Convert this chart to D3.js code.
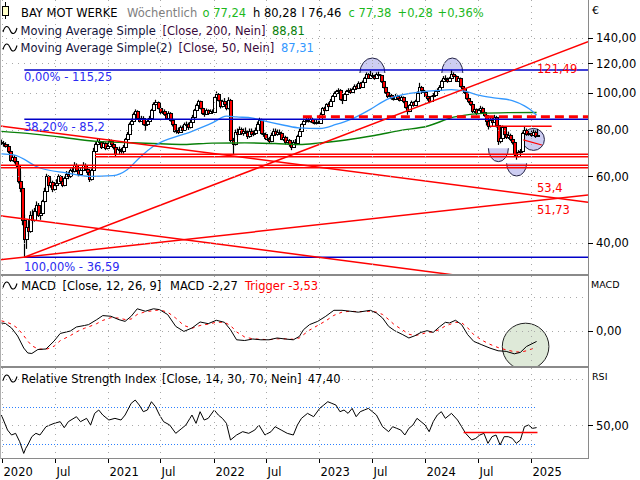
<!DOCTYPE html>
<html><head><meta charset="utf-8">
<script src="https://cdn.jsdelivr.net/npm/d3@7"></script>
<style>
html,body{margin:0;padding:0;background:#fff;}
svg{display:block;font-family:"DejaVu Sans",sans-serif;}
</style></head><body>
<svg id="chart" width="640" height="480"></svg>
<script>
// ---------------- DATA ----------------
const firstWeek = "2019-12-30"; // Monday of first weekly candle
const weekOpen = [
74.0,73.5,73.0,72.5,70.0,66.5,67.5,66.0,64.5,58.5,56.0,46.0,41.0,44.0,43.0,47.5,46.0,48.5,50.5,47.5,48.0,51.5,55.0,60.0,57.0,58.0,55.5,57.0,57.5,60.0,58.5,57.0,59.5,61.0,60.0,62.5,62.0,64.5,62.5,61.0,62.5,64.5,63.0,61.5,59.0,62.5,70.0,73.0,74.5,74.0,72.0,73.5,71.5,
72.3,74.5,73.0,72.0,69.0,71.0,70.5,70.0,72.0,75.5,78.0,83.0,84.5,88.0,89.5,86.0,84.5,86.0,83.0,82.5,84.5,86.0,90.0,93.5,94.5,91.5,89.0,89.5,88.0,86.0,88.5,85.0,82.5,79.5,80.0,79.0,81.0,80.0,82.5,83.0,81.0,84.0,86.5,90.0,93.0,95.0,91.5,88.5,88.0,90.0,88.5,89.5,
89.0,97.5,99.5,96.0,92.5,95.0,93.5,91.0,96.0,75.0,73.0,79.0,78.0,80.5,78.5,79.5,79.0,77.0,79.5,78.0,78.5,80.0,83.0,85.0,78.5,78.0,76.0,75.5,74.5,77.5,79.5,78.0,79.0,78.5,75.5,76.5,74.0,75.0,73.0,72.0,74.0,73.5,77.0,79.5,82.5,84.5,85.0,84.5,85.5,84.0,83.5,84.0,
83.4,88.0,91.0,90.0,93.5,92.5,95.5,98.0,100.0,101.0,102.0,96.5,96.0,99.5,101.0,102.0,100.5,102.5,104.5,103.0,106.5,104.0,107.0,109.5,112.5,110.0,112.0,111.0,110.0,112.5,111.5,107.5,104.0,100.5,98.0,99.0,97.0,96.5,98.5,97.0,96.0,97.5,95.0,92.0,89.5,93.0,94.5,93.0,95.5,100.0,104.0,102.0,
100.8,98.5,97.0,95.5,98.0,99.0,101.5,102.0,104.0,107.5,110.0,109.0,107.5,109.5,112.5,111.0,108.0,109.5,104.5,103.0,100.5,97.0,95.0,93.5,89.5,90.5,88.5,90.0,91.5,89.0,87.5,84.5,81.5,85.0,84.0,86.5,82.0,74.5,76.0,81.0,78.0,76.5,77.5,75.5,74.0,69.0,68.0,69.5,70.0,78.5,80.0,78.0,78.5,77.5,79.0,77.24];
const weekHigh = [
75.2,74.6,74.0,73.2,70.8,68.6,68.4,67.0,65.2,62.0,56.5,47.5,45.5,46.0,48.5,49.0,49.5,51.5,51.0,49.0,52.0,56.0,61.0,60.5,59.5,58.5,58.0,59.0,60.8,60.5,59.5,60.0,62.0,61.8,63.0,63.5,65.5,65.0,63.0,63.5,65.5,65.0,63.5,62.0,63.0,71.5,74.0,75.5,75.5,74.5,74.5,74.0,73.0,
75.5,75.2,73.8,72.5,71.8,72.0,71.5,72.8,76.0,78.8,83.5,85.5,88.8,90.5,90.0,87.0,87.0,86.8,84.0,85.5,87.0,90.8,94.5,96.0,95.0,92.5,91.0,90.5,88.5,89.5,89.0,85.8,83.0,81.0,81.0,82.0,82.0,83.5,84.0,83.5,84.8,87.5,90.8,93.8,96.0,95.5,92.0,90.0,91.0,90.5,90.5,90.5,
98.0,101.0,100.0,96.5,96.0,97.0,94.5,97.5,96.5,76.0,80.0,80.5,81.5,81.0,80.5,81.0,79.5,80.5,80.5,79.5,81.0,84.0,86.0,85.5,79.5,78.5,77.0,76.5,78.5,80.5,80.5,80.0,80.0,79.0,77.5,77.0,76.5,75.5,73.5,75.0,75.5,77.5,80.5,83.0,85.5,86.0,86.0,86.5,86.0,85.0,85.0,84.5,
88.8,91.8,92.0,94.0,94.5,96.5,98.8,101.0,102.0,103.0,102.5,97.5,100.0,102.0,103.0,103.0,103.5,105.5,105.5,107.5,107.0,108.0,110.5,113.5,113.0,114.5,113.5,112.0,113.5,114.0,112.0,108.0,104.5,101.0,100.0,99.5,98.0,99.5,99.0,98.0,98.5,98.0,95.5,92.5,93.5,95.5,95.0,96.0,101.0,106.5,104.5,102.5,
101.5,99.0,97.5,98.5,100.0,102.0,103.0,105.0,108.5,111.0,111.5,110.0,110.5,115.25,113.5,111.5,110.5,110.0,105.5,104.0,101.0,97.5,96.0,94.0,91.5,91.0,91.0,92.5,92.0,89.5,88.0,85.0,86.0,86.0,87.5,87.0,82.5,77.0,82.0,81.5,79.0,79.0,78.0,76.5,74.5,70.0,70.5,71.0,79.0,81.5,80.5,79.5,79.5,80.0,79.5,80.28];
const weekLow = [
72.8,72.0,71.6,69.2,65.6,65.8,65.0,63.5,57.5,54.5,44.5,36.59,38.5,41.5,42.5,45.0,45.5,47.8,46.8,46.0,47.5,51.0,54.5,56.0,56.0,54.5,55.0,56.5,57.0,57.5,56.2,56.5,59.0,59.0,59.5,61.0,61.5,61.8,59.8,60.5,62.0,62.2,60.5,58.0,58.5,62.0,69.5,72.0,72.8,71.0,71.5,70.5,70.8,
71.8,72.0,70.8,68.0,68.5,69.5,69.0,69.0,71.5,75.0,77.5,82.0,84.0,87.0,85.0,83.5,84.0,82.0,79.5,82.0,84.0,85.5,89.5,92.5,90.5,88.0,88.0,87.0,85.0,85.5,84.0,81.5,78.5,78.0,77.8,78.5,79.0,79.5,81.5,79.8,80.5,83.5,86.0,89.5,92.5,90.5,87.5,86.5,87.5,87.5,88.0,88.5,
88.5,96.5,95.0,91.0,91.5,92.5,90.0,90.5,74.0,68.5,72.5,76.5,77.5,77.5,77.0,78.0,75.5,76.0,76.5,76.8,78.0,79.5,82.5,77.5,76.5,75.0,74.5,73.5,74.0,77.0,77.5,77.0,77.5,75.0,74.5,73.0,73.5,72.0,70.5,71.5,72.5,73.0,76.5,79.0,82.0,83.5,83.5,83.5,83.0,82.5,82.5,82.8,
83.0,87.5,89.0,89.5,91.5,92.0,95.0,97.5,99.0,100.0,95.5,93.5,95.5,99.0,100.5,99.5,100.0,102.0,102.0,102.5,103.0,103.5,106.5,109.0,109.0,109.5,110.0,108.5,109.5,110.5,106.5,103.0,99.5,97.0,97.5,96.0,95.5,96.0,96.0,95.0,95.5,94.0,91.0,87.6,89.0,92.5,92.0,92.5,95.0,99.5,101.0,100.0,
97.5,95.5,94.0,95.0,97.0,98.5,100.5,101.5,103.5,107.0,108.0,106.5,107.0,109.0,109.5,107.0,107.0,103.5,102.0,99.5,96.0,94.0,92.5,88.5,88.5,87.5,88.0,89.0,88.0,86.5,82.0,80.0,81.0,83.0,83.5,81.0,72.8,73.5,75.5,77.0,75.5,75.5,74.5,73.0,68.0,66.5,67.5,68.5,69.5,78.0,77.0,77.0,76.5,77.0,76.0,76.46];
const weekClose = [
73.5,73.0,72.5,70.0,66.5,67.5,66.0,64.5,58.5,56.0,46.0,41.0,44.0,43.0,47.5,46.0,48.5,50.5,47.5,48.0,51.5,55.0,60.0,57.0,58.0,55.5,57.0,57.5,60.0,58.5,57.0,59.5,61.0,60.0,62.5,62.0,64.5,62.5,61.0,62.5,64.5,63.0,61.5,59.0,62.5,70.0,73.0,74.5,74.0,72.0,73.5,71.5,72.3,
74.5,73.0,72.0,69.0,71.0,70.5,70.0,72.0,75.5,78.0,83.0,84.5,88.0,89.5,86.0,84.5,86.0,83.0,82.5,84.5,86.0,90.0,93.5,94.5,91.5,89.0,89.5,88.0,86.0,88.5,85.0,82.5,79.5,80.0,79.0,81.0,80.0,82.5,83.0,81.0,84.0,86.5,90.0,93.0,95.0,91.5,88.5,88.0,90.0,88.5,89.5,89.0,
97.5,99.5,96.0,92.5,95.0,93.5,91.0,96.0,75.0,73.0,79.0,78.0,80.5,78.5,79.5,79.0,77.0,79.5,78.0,78.5,80.0,83.0,85.0,78.5,78.0,76.0,75.5,74.5,77.5,79.5,78.0,79.0,78.5,75.5,76.5,74.0,75.0,73.0,72.0,74.0,73.5,77.0,79.5,82.5,84.5,85.0,84.5,85.5,84.0,83.5,84.0,83.4,
88.0,91.0,90.0,93.5,92.5,95.5,98.0,100.0,101.0,102.0,96.5,96.0,99.5,101.0,102.0,100.5,102.5,104.5,103.0,106.5,104.0,107.0,109.5,112.5,110.0,112.0,111.0,110.0,112.5,111.5,107.5,104.0,100.5,98.0,99.0,97.0,96.5,98.5,97.0,96.0,97.5,95.0,92.0,89.5,93.0,94.5,93.0,95.5,100.0,104.0,102.0,100.8,
98.5,97.0,95.5,98.0,99.0,101.5,102.0,104.0,107.5,110.0,109.0,107.5,109.5,112.5,111.0,108.0,109.5,104.5,103.0,100.5,97.0,95.0,93.5,89.5,90.5,88.5,90.0,91.5,89.0,87.5,84.5,81.5,85.0,84.0,86.5,82.0,74.5,76.0,81.0,78.0,76.5,77.5,75.5,74.0,69.0,68.0,69.5,70.0,78.5,80.0,78.0,78.5,77.5,79.0,77.1,77.38];

// moving averages (week index, value)
const ma200Week  = [0,14,29,47,63,78,90,104,120,135,147,157,170,184,197,210,223,236,250,264];
const ma200Value = [79.1,78.0,76.4,74.4,73.8,73.3,73.0,73.6,73.7,73.4,73.0,73.7,75.0,77.1,79.6,81.6,86.3,88.2,88.7,88.81];
const ma50Week  = [0,6,19,32,44,55,62,68,75,78,94,104,111,116,124,128,140,147,157,165,173,182,190,198,206,214,222,229,236,244,252,258,261,264];
const ma50Value = [68.9,68.5,63.2,61.3,60.0,60.3,62.5,67.2,72.2,73.7,79.1,83.3,86.8,86.4,85.8,84.7,82.0,80.8,80.5,82.5,85.4,90.5,96.1,99.0,100.6,101.5,102.2,101.0,98.6,97.0,95.5,92.5,90.3,87.31];

// MACD (week index, MACD, trigger)
const macdWeek = [0,2,5,8,11,13,15,18,22,26,29,34,37,41,43,47,50,54,58,61,64,67,71,75,78,82,86,90,94,98,102,106,110,113,116,120,124,128,132,136,140,144,147,149,152,156,160,164,168,172,176,182,185,188,191,194,198,201,204,207,210,213,216,219,221,224,227,230,233,237,241,245,249,253,256,259,264];
const macdValue = [1.74,1.63,0.65,-1.09,-3.70,-4.78,-4.89,-4.02,-3.91,-2.17,-0.54,0,0.87,1.2,1.39,2.46,3.35,3.20,2.46,2.09,3.2,4.83,4.30,4.83,4.65,3.57,1.0,-0.09,0.65,1.96,1.59,2.33,1.89,0.28,-1.91,-2.07,-1.74,-1.91,-1.91,-1.52,-1.74,-1.91,-1.17,0.28,1.39,2.09,3.2,4.5,4.5,4.30,4.09,4.5,3.91,2.83,1.0,0.07,-0.8,-1.52,-1.02,-0.3,0.07,-0.3,0.87,1.89,1.74,2.33,1.39,-0.8,-2.26,-3.0,-3.72,-4.30,-4.43,-4.96,-4.65,-3.37,-2.27];
const triggerValue = [2.2,2.0,1.5,0.6,-1.0,-2.2,-3.2,-3.9,-4.0,-3.3,-2.1,-1.0,-0.2,0.6,0.9,1.6,2.3,2.9,2.8,2.5,2.6,3.6,4.2,4.4,4.6,4.1,2.8,1.2,0.6,1.2,1.5,1.9,1.9,1.2,-0.2,-1.3,-1.7,-1.8,-1.9,-1.7,-1.7,-1.8,-1.5,-0.8,0.2,1.2,2.2,3.4,4.1,4.3,4.2,4.3,4.1,3.6,2.5,1.3,0.2,-0.7,-1.0,-0.7,-0.3,-0.2,0.3,1.1,1.4,1.9,1.8,0.7,-0.8,-2.0,-2.9,-3.6,-4.1,-4.5,-4.6,-4.3,-3.53];

// RSI (week index, value)
const rsiWeek = [0,3,5,7,9,11,12,13,15,17,19,22,24,26,29,31,33,37,39,42,44,46,48,50,53,56,59,61,64,66,68,70,72,74,76,78,80,83,86,89,91,93,94,96,98,100,102,105,107,109,111,113,116,119,122,125,127,130,133,135,138,141,144,146,148,151,154,157,159,161,163,165,167,169,171,173,175,177,179,181,183,185,188,191,193,195,197,199,201,203,205,207,209,211,213,215,217,219,222,225,227,229,232,234,236,238,240,242,244,246,248,250,252,254,256,258,260,262,264];
const rsiValue = [61.0,44.8,39.4,41.2,32.2,19.5,25.0,28.6,37.6,41.2,39.4,48.4,50.2,52.0,53.8,47.3,53.8,59.2,53.8,57.4,50.2,62.8,66.4,61.0,55.6,57.4,55.6,61.0,73.6,77.2,71.8,64.6,66.4,75.4,70.0,61.0,53.8,50.2,41.2,46.6,50.2,57.4,61.0,52.0,64.6,55.6,57.4,66.4,61.0,57.4,52.0,34.0,39.4,43.0,41.2,44.8,50.2,39.4,43.0,48.4,44.8,41.2,39.4,50.2,57.4,62.8,59.2,68.2,71.8,75.4,73.6,71.8,64.6,66.4,62.8,68.2,59.2,64.6,66.4,68.2,64.6,61.0,48.4,43.0,48.4,46.6,44.8,39.4,46.6,50.2,57.4,53.8,50.2,43.0,53.8,61.0,64.6,57.4,62.8,55.6,48.4,41.2,34.0,35.8,39.4,41.2,30.4,37.6,39.4,28.6,37.6,37.6,35.8,30.4,34.0,48.4,50.2,46.6,47.4];

// axes
const priceTicks = [140,120,100,80,60,40];
const macdTicks = [0];
const macdGrid = [0, 7.5];
const rsiTicks = [50];
const rsiGrid = [50, 100];
const rsiBands = [70, 30];
const xTickDates = ["2020-01-01","2020-07-01","2021-01-01","2021-07-01","2022-01-01","2022-07-01","2023-01-01","2023-07-01","2024-01-01","2024-07-01","2025-01-01"];
const xTickLabels = ["2020","Jul","2021","Jul","2022","Jul","2023","Jul","2024","Jul","2025"];

// drawings (date, price)
const fibLevels = [115.25, 85.2, 36.59];
const fibLabels = ["0,00% - 115,25", "38,20% - 85,2", "100,00% - 36,59"];
const fibStart = "2020-03-18";
const trendA = [["2019-12-25", 81.8], ["2025-01-20", 53.4]];
const trendB = [["2020-03-18", 36.59], ["2025-01-20", 51.73]];
const trendC = [["2019-12-25", 47.2], ["2024-02-20", 33.2]];
const trendE = [["2020-03-18", 36.59], ["2025-01-20", 121.49]];
const supportStart = ["2020-11-17", "2020-11-17", "2019-12-25", "2019-12-25"];
const supportLevel = [68.74, 67.74, 64.27, 63.33];
const dashedLevel = [["2022-11-05", 86.57]];
const shortLevel = [["2024-08-12", 81.62], ["2025-03-13", 81.62]];
const shortTrend = [["2024-12-05", 75.05], ["2025-02-07", 72.78]];
const rsiLevel = [["2024-05-13", 42.2], ["2025-01-23", 42.2]];
const lineLabels = [["121,49", 69], ["53,4", 187.5], ["51,73", 210]];
// markers: date, price, rx, ry, part
const markers = [
  ["2023-07-03", 113.1, 12.5, 15, "top"],
  ["2024-04-04", 113.1, 10.5, 15, "top"],
  ["2024-09-10", 71.33, 10, 13.4, "bottom"],
  ["2024-11-12", 65.04, 10, 12.7, "bottom"],
  ["2025-01-09", 75.3, 11, 11, "full"]
];
const macdMarker = ["2024-12-13", -3.37, 23.3];

// ---------------- CHART ----------------
const svg = d3.select("#chart");
const PR = 588;                // right edge of plots
const MAIN = [0, 274], MACDP = [276, 366], RSIP = [368, 458];
const pd = s => new Date(s + "T00:00:00Z");
const t0 = pd(firstWeek);
const weekDate = i => d3.utcDay.offset(t0, 7 * i);
const x = d3.scaleUtc().domain([pd("2020-01-01"), pd("2025-01-01")]).range([2, 531.1]);
const y = d3.scaleLog().domain([33.01, 176.9]).range([274, 0]);
const yM = d3.scaleLinear().domain([0, 1]).range([331, 326.4]);
const yR = d3.scaleLinear().domain([30, 70]).range([443.7, 406.7]);
const de = d3.formatLocale({decimal: ",", thousands: ".", grouping: [3], currency: ["", "€"]});
const f2 = de.format(".2f");
const FONT = 11.5;
const GREEN = "#1db81d";

const defs = svg.append("defs");
[["cMain", MAIN], ["cMacd", MACDP], ["cRsi", RSIP]].forEach(([id, r]) => {
  defs.append("clipPath").attr("id", id).append("rect").attr("x", 0).attr("y", r[0]).attr("width", PR).attr("height", r[1] - r[0]);
});
svg.append("rect").attr("width", 640).attr("height", 480).attr("fill", "#fff");

const gMain = svg.append("g").attr("clip-path", "url(#cMain)");
const gMacd = svg.append("g").attr("clip-path", "url(#cMacd)");
const gRsi = svg.append("g").attr("clip-path", "url(#cRsi)");

const crisp = v => Math.round(v) + 0.5;
const GRID = "#a8a8a8";
// vertical grid
xTickDates.forEach(d => {
  const xx = crisp(x(pd(d)));
  [MAIN, MACDP, RSIP].forEach(r => {
    svg.append("line").attr("x1", xx).attr("x2", xx).attr("y1", r[0]).attr("y2", r[1])
      .attr("stroke", GRID).attr("stroke-dasharray", "1,5");
  });
});
// horizontal grid
const hgrid = (yy) => svg.append("line").attr("x1", 0).attr("x2", PR).attr("y1", crisp(yy)).attr("y2", crisp(yy))
  .attr("stroke", GRID).attr("stroke-dasharray", "1,5");
priceTicks.forEach(v => hgrid(y(v)));
macdGrid.forEach(v => hgrid(yM(v)));
rsiGrid.forEach(v => hgrid(yR(v)));

// markers (under candles)
const LAV = "rgba(196,196,240,0.85)";
markers.forEach(([d, p, rx, ry, part]) => {
  const cx = x(pd(d)), cy = y(p);
  let path;
  if (part === "top") path = `M${cx - rx},${cy} A${rx},${ry} 0 0 1 ${cx + rx},${cy}`;
  else if (part === "bottom") path = `M${cx - rx},${cy} A${rx},${ry} 0 0 0 ${cx + rx},${cy}`;
  else path = `M${cx - rx},${cy} A${rx},${ry} 0 1 0 ${cx + rx},${cy} A${rx},${ry} 0 1 0 ${cx - rx},${cy}`;
  gMain.append("path").attr("d", path).attr("fill", LAV).attr("stroke", "#222244").attr("stroke-width", 1);
});

// candles
const candles = gMain.append("g");
weekClose.forEach((c, i) => {
  const o = weekOpen[i], h = weekHigh[i], l = weekLow[i];
  const cx = x(weekDate(i));
  const left = Math.round(cx) - 1;
  candles.append("line").attr("x1", left + 1.5).attr("x2", left + 1.5)
    .attr("y1", y(h)).attr("y2", y(l)).attr("stroke", "#000").attr("stroke-width", 1.2);
  const top = Math.round(y(Math.max(o, c))) + 0.5;
  const bot = Math.round(y(Math.min(o, c))) + 0.5;
  candles.append("rect").attr("x", left + 0.5).attr("y", top).attr("width", 3).attr("height", Math.max(bot - top, 1))
    .attr("fill", c < o ? "#ff0000" : "#ffffff").attr("stroke", "#000").attr("stroke-width", 1);
});

// moving averages
const maLine = d3.line().curve(d3.curveMonotoneX);
gMain.append("path").attr("d", maLine(ma200Week.map((w, k) => [x(weekDate(w)), y(ma200Value[k])])))
  .attr("fill", "none").attr("stroke", "#0a800a").attr("stroke-width", 1.4);
gMain.append("path").attr("d", maLine(ma50Week.map((w, k) => [x(weekDate(w)), y(ma50Value[k])])))
  .attr("fill", "none").attr("stroke", "#3398ff").attr("stroke-width", 1.3);

// fibonacci lines
fibLevels.forEach((v, k) => {
  const yy = y(v);
  gMain.append("line").attr("x1", x(pd(fibStart))).attr("x2", PR).attr("y1", yy).attr("y2", yy)
    .attr("stroke", "#0000c8").attr("stroke-width", 1.6);
});

// red lines
function extLine(p1, p2, xa, xb) {
  const x1 = x(pd(p1[0])), y1 = y(p1[1]), x2 = x(pd(p2[0])), y2 = y(p2[1]);
  const m = (y2 - y1) / (x2 - x1);
  const a = xa === undefined ? x1 : xa, b = xb === undefined ? x2 : xb;
  return [[a, y1 + m * (a - x1)], [b, y1 + m * (b - x1)]];
}
const red = (pts, w, dash) => {
  const p = gMain.append("path").attr("d", d3.line()(pts)).attr("fill", "none")
    .attr("stroke", "#ff0000").attr("stroke-width", w || 1.5);
  if (dash) p.attr("stroke-dasharray", dash);
};
red(extLine(trendA[0], trendA[1], 0, PR));
red(extLine(trendB[0], trendB[1], 0, PR));
red(extLine(trendC[0], trendC[1], 0, PR));
red(extLine(trendE[0], trendE[1], undefined, PR));
supportLevel.forEach((v, k) => red([[x(pd(supportStart[k])), y(v)], [PR, y(v)]]));
red([[x(pd(dashedLevel[0][0])), y(dashedLevel[0][1])], [PR, y(dashedLevel[0][1])]], 3, "9,5");
red(shortLevel.map(p => [x(pd(p[0])), y(p[1])]), 1.3);
red(shortTrend.map(p => [x(pd(p[0])), y(p[1])]), 1.2);

// MACD panel
const mc = macdMarker;
gMacd.append("circle").attr("cx", x(pd(mc[0]))).attr("cy", yM(mc[1])).attr("r", mc[2])
  .attr("fill", "rgba(214,228,206,0.8)").attr("stroke", "#222").attr("stroke-width", 1);
gMacd.append("path").attr("d", d3.line()(macdWeek.map((w, k) => [x(weekDate(w)), yM(triggerValue[k])])))
  .attr("fill", "none").attr("stroke", "#ff0000").attr("stroke-width", 1).attr("stroke-dasharray", "3,4");
gMacd.append("path").attr("d", d3.line()(macdWeek.map((w, k) => [x(weekDate(w)), yM(macdValue[k])])))
  .attr("fill", "none").attr("stroke", "#000").attr("stroke-width", 1);

// RSI panel
rsiBands.forEach(v => {
  gRsi.append("line").attr("x1", 0).attr("x2", x(weekDate(264))).attr("y1", crisp(yR(v))).attr("y2", crisp(yR(v)))
    .attr("stroke", "#2a7fff").attr("stroke-dasharray", "1,2");
});
gRsi.append("path").attr("d", d3.line()(rsiWeek.map((w, k) => [x(weekDate(w)), yR(rsiValue[k])])))
  .attr("fill", "none").attr("stroke", "#000").attr("stroke-width", 1);
gRsi.append("path").attr("d", d3.line()(rsiLevel.map(p => [x(pd(p[0])), yR(p[1])])))
  .attr("fill", "none").attr("stroke", "#ff0000").attr("stroke-width", 1.5);

// frames
const FR = "#8a8a8a";
svg.append("rect").attr("x", 0).attr("y", 274).attr("width", PR).attr("height", 2).attr("fill", FR);
svg.append("rect").attr("x", 0).attr("y", 366).attr("width", PR).attr("height", 2).attr("fill", FR);
svg.append("line").attr("x1", 0).attr("x2", PR + 0.5).attr("y1", 458.5).attr("y2", 458.5).attr("stroke", FR);
svg.append("line").attr("x1", PR + 0.5).attr("x2", PR + 0.5).attr("y1", 0).attr("y2", 459).attr("stroke", FR);
svg.append("line").attr("x1", 0.5).attr("x2", 0.5).attr("y1", 0).attr("y2", 459).attr("stroke", "#b0b0b0");

// text helper
const txt = (xx, yy, s, col, size, weight) => svg.append("text").attr("x", xx).attr("y", yy)
  .attr("fill", col || "#000").attr("font-size", size || FONT).attr("font-weight", weight || "normal").text(s);

// right axis
priceTicks.forEach(v => {
  const yy = y(v);
  svg.append("line").attr("x1", PR).attr("x2", PR + 5).attr("y1", crisp(yy)).attr("y2", crisp(yy)).attr("stroke", "#000");
  txt(596, yy + 4.3, f2(v));
});
macdTicks.forEach(v => {
  const yy = yM(v);
  svg.append("line").attr("x1", PR).attr("x2", PR + 5).attr("y1", crisp(yy)).attr("y2", crisp(yy)).attr("stroke", "#000");
  txt(596, yy + 4.3, f2(v));
});
rsiTicks.forEach(v => {
  const yy = yR(v);
  svg.append("line").attr("x1", PR).attr("x2", PR + 5).attr("y1", crisp(yy)).attr("y2", crisp(yy)).attr("stroke", "#000");
  txt(596, yy + 4.3, f2(v));
});
txt(592, 14, "€", "#000", 11);
txt(591, 288, "MACD", "#000", 9.5);
txt(592, 380, "RSI", "#000", 9.5);

// x axis
xTickDates.forEach((d, k) => {
  const xx = crisp(x(pd(d)));
  svg.append("line").attr("x1", xx).attr("x2", xx).attr("y1", 459).attr("y2", 463).attr("stroke", "#000");
  txt(xx + 1, 476, xTickLabels[k]);
});

// drawing labels
fibLabels.forEach((s, k) => {
  const yy = y(fibLevels[k]);
  txt(24, yy + (k === 2 ? 13.5 : 11.5), s, "#2b2bf2");
});
lineLabels.forEach(([s, yy]) => txt(537, yy + 4.3, s, "#ff0000"));

// legends
const wave = (cy) => svg.append("path")
  .attr("d", `M3,${cy + 2} C5,${cy - 5} 8,${cy - 5} 10,${cy} S15,${cy + 5} 17,${cy - 2}`)
  .attr("fill", "none").attr("stroke", "#000").attr("stroke-width", 1.1);
// candle icon
svg.append("line").attr("x1", 5.5).attr("x2", 5.5).attr("y1", 2).attr("y2", 19).attr("stroke", "#000");
svg.append("rect").attr("x", 2.5).attr("y", 6.5).attr("width", 6).attr("height", 9).attr("fill", "#ffffc8").attr("stroke", "#000");
[[21, "BAY MOT WERKE", "#000"], [127, "Wöchentlich", "#808080"], [202.5, "o 77,24", GREEN], [253, "h 80,28", "#000"],
 [301.5, "l 76,46", "#000"], [348.5, "c 77,38", GREEN], [397.5, "+0,28", GREEN], [437.5, "+0,36%", GREEN]]
  .forEach(([xx, s, c]) => txt(xx, 16.5, s, c));
wave(30);
[[20.5, "Moving Average Simple", "#14143c"], [162.5, "[Close, 200, Nein]", "#3c0a3c"], [272, "88,81", "#0a800a"]]
  .forEach(([xx, s, c]) => txt(xx, 34.5, s, c));
wave(47.5);
[[20.5, "Moving Average Simple(2)", "#14143c"], [178.5, "[Close, 50, Nein]", "#3c0a3c"], [281, "87,31", "#3398ff"]]
  .forEach(([xx, s, c]) => txt(xx, 52, s, c));
wave(285.5);
[[21.3, "MACD", "#000"], [62.5, "[Close, 12, 26, 9]", "#000"], [170, "MACD -2,27", "#000"], [245, "Trigger -3,53", "#ff0000"]]
  .forEach(([xx, s, c]) => txt(xx, 290, s, c));
wave(378.5);
[[21.3, "Relative Strength Index", "#000"], [162, "[Close, 14, 30, 70, Nein]", "#000"], [307.7, "47,40", "#000"]]
  .forEach(([xx, s, c]) => txt(xx, 383, s, c));
</script>
</body></html>
